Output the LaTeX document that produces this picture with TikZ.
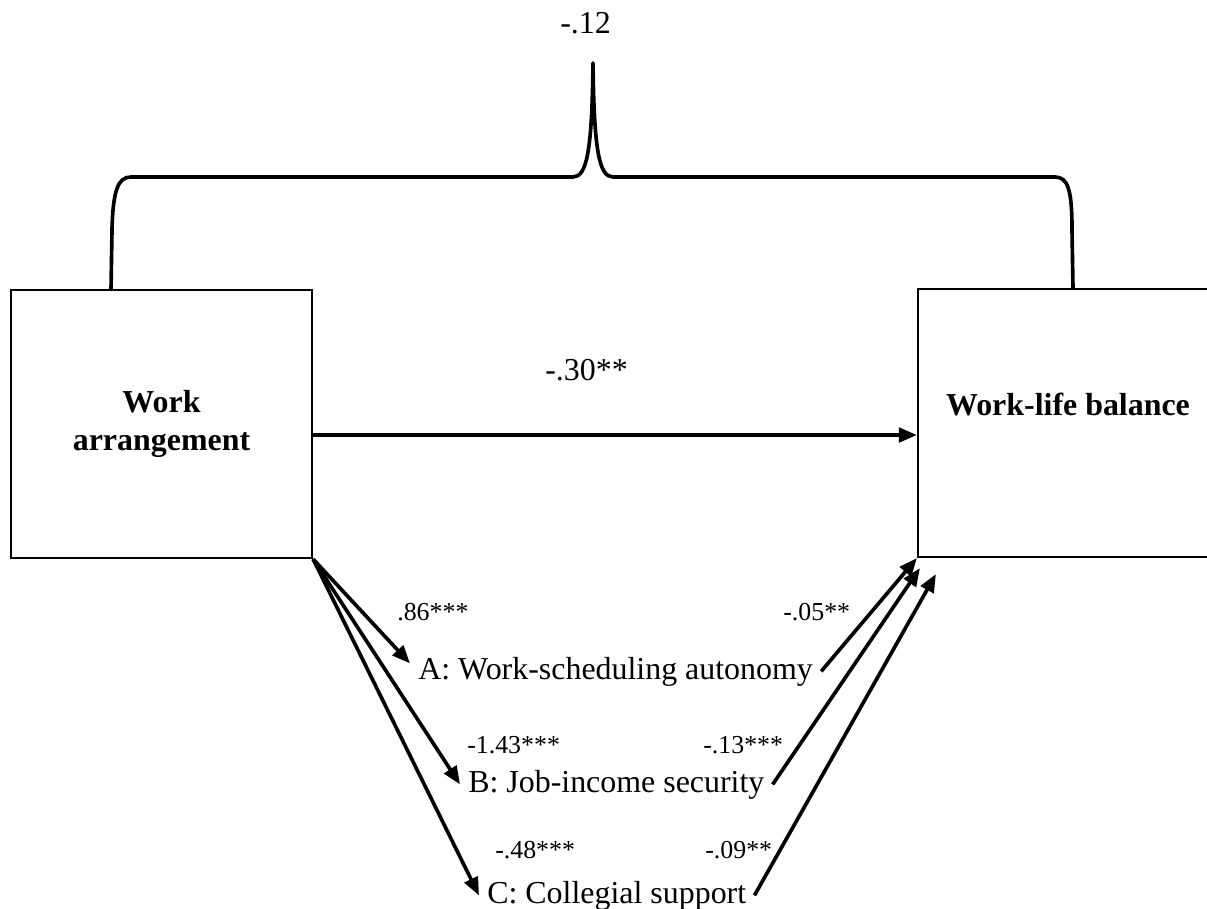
\documentclass[tikz,border=0pt]{standalone}
\usepackage{fontspec}
\setmainfont{Liberation Serif}
\usetikzlibrary{arrows.meta}

\begin{document}
\begin{tikzpicture}[x=0.025cm, y=-0.025cm,
		box/.style={draw, line width=1.5pt, minimum width=7.525cm, minimum height=6.7cm,
			font=\bfseries\fontsize{22.7}{27}\selectfont, align=center},
		arr/.style={line width=2.6pt, -{Triangle[length=0.45cm, width=0.36cm]}},
		med/.style={font=\fontsize{22.7}{27}\selectfont, inner xsep=0.2cm, inner ysep=0pt, anchor=base west},
		coef/.style={font=\fontsize{18.4}{22}\selectfont, inner sep=0pt, anchor=base west}]
		% Frame
		\path[clip, use as bounding box] (0,0) rectangle (1207,908);

		% Draw Boxes
		\node[box] (wa) at (161.5,424) {Work\\arrangement};
		\node[box, minimum width=7.5cm, text height=0.55cm, text depth=0.95cm] (wlb) at (1068,423) {Work-life balance};

		% Mediators
		\node[med] (A) at (410,679) {A: Work-scheduling autonomy};
		\node[med] (B) at (460,792) {B: Job-income security};
		\node[med] (C) at (479,903) {C: Collegial support};

		% Total effect brace
		\draw[line width=2.6pt, line join=round] (111,290) -- (112,230) .. controls (113,190) and (118,177) .. (131,177)
			-- (573,177) .. controls (587,177) and (592,150) .. (593,63)
			.. controls (594,150) and (599,177) .. (613,177) -- (1055,177)
			.. controls (1068,177) and (1072,190) .. (1072,230) -- (1073,289);
		\node[med, inner xsep=0pt] (ctot) at (560,33) {-.12};

		% Direct effect
		\draw[arr] ([shift={(0,11)}]wa.east) -- ([shift={(0,12)}]wlb.west);
		\node[med, inner xsep=0pt] (cdir) at (545,380) {-.30**};

		% Indirect paths
		\draw[arr] (wa.south east) -- ([yshift=0.2cm]A.west);
		\draw[arr] (wa.south east) -- (B.west);
		\draw[arr] (wa.south east) -- (C.west);
		\draw[arr] (A.east) -- (wlb.south west);
		\draw[arr] (B.east) -- ([shift={(3,10)}]wlb.south west);
		\draw[arr] (C.east) -- ([shift={(19,16)}]wlb.south west);

		% Coefficients
		\node[coef] (ca1) at (397,620) {.86***};
		\node[coef] (ca2) at (783,620) {-.05**};
		\node[coef] (cb1) at (467,753) {-1.43***};
		\node[coef] (cb2) at (703,753) {-.13***};
		\node[coef] (cc1) at (495,858) {-.48***};
		\node[coef] (cc2) at (705,858) {-.09**};
	\end{tikzpicture}
\end{document}
